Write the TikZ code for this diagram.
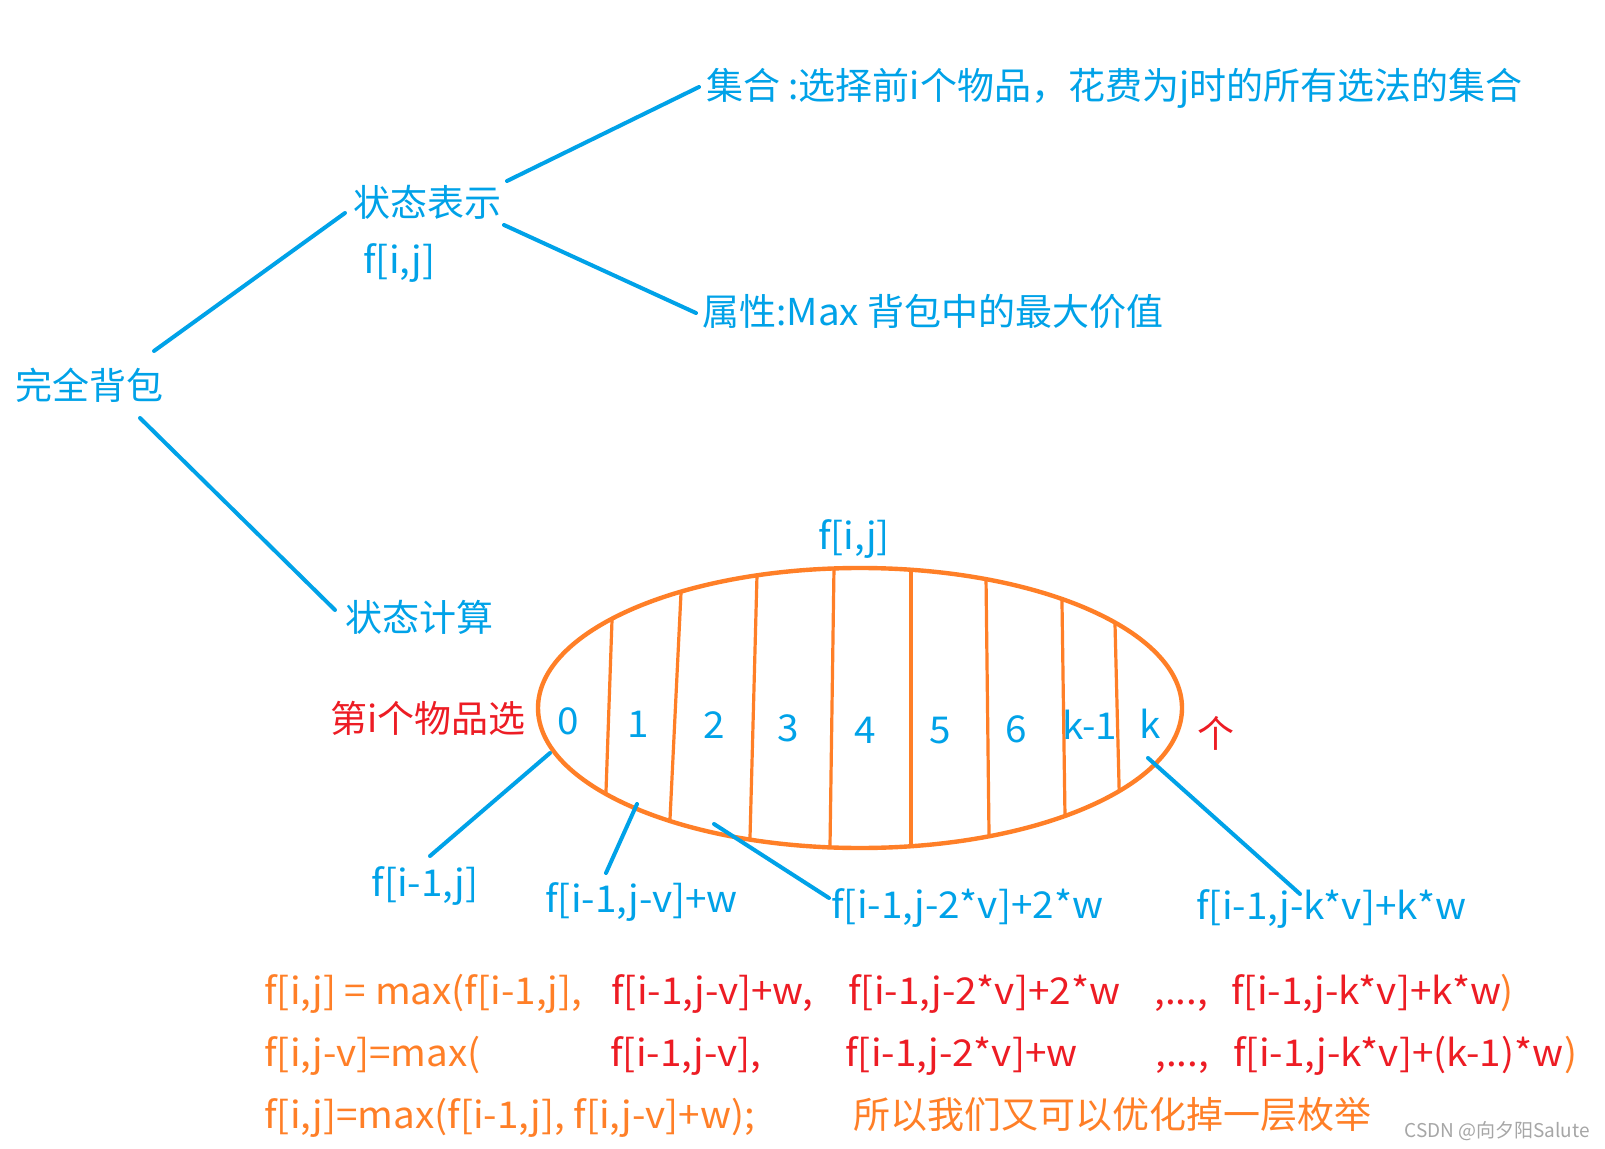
\documentclass[tikz,border=0pt]{standalone}
\usepackage{fontspec}
\setmainfont{Noto Sans CJK SC}
\newfontfamily\latinf[FakeStretch=1.045]{Noto Sans CJK SC}
\definecolor{pblue}{HTML}{00A2E8}
\definecolor{porange}{HTML}{FF7F27}
\definecolor{pred}{HTML}{ED1C24}
\definecolor{wmgray}{HTML}{A6A6A6}
\begin{document}
\begin{tikzpicture}[x=0.5pt,y=-0.5pt,
  txt/.style={inner sep=0pt, anchor=west, text height=0.76em, text depth=0pt, yshift=-3.5pt, font=\fontsize{18.5}{22}\selectfont},
  bl/.style={txt, text=pblue},
  rd/.style={txt, text=pred},
  og/.style={txt, text=porange},
  lt/.style={font=\fontsize{18.5}{22}\selectfont\latinf},
  dig/.style={bl, anchor=center},
  bline/.style={draw=pblue, line width=2pt, line cap=round},
  oline/.style={draw=porange, line width=1.6pt},
]
\useasboundingbox[fill=white] (0,0) rectangle (1605,1149);

% top tree
\node[bl] (jihe) at (706,85) {集合 :选择前i个物品，花费为j时的所有选法的集合};
\node[bl] (zt) at (353,202) {状态表示};
\node[bl, lt] (fij1) at (363,259) {f[i,j]};
\node[bl] (sx) at (702,311) {属性:{\latinf Max} 背包中的最大价值};
\node[bl] (root) at (15,385) {完全背包};
\node[bl] (zjs) at (345,617) {状态计算};

\coordinate (l1a) at (507,181); \coordinate (l1b) at (699,87);
\coordinate (l2a) at (154,351); \coordinate (l2b) at (345,213);
\coordinate (l3a) at (504,225); \coordinate (l3b) at (696,313);
\coordinate (l4a) at (140,418); \coordinate (l4b) at (335,610);
\draw[bline] (l1a) -- (l1b);
\draw[bline] (l2a) -- (l2b);
\draw[bline] (l3a) -- (l3b);
\draw[bline] (l4a) -- (l4b);

% ellipse
\node[dig, lt] (fij2) at (854,535) {f[i,j]};
\begin{scope}
\clip (860,708) ellipse [x radius=322, y radius=140];
\draw[oline] (614.1,560) -- (603.6,860);
\draw[oline] (682.6,560) -- (668.0,860);
\draw[oline] (757.4,560) -- (749.4,860);
\draw[oline] (834.1,560) -- (829.8,860);
\draw[oline] (911,560) -- (911,860);
\draw[oline] (985.8,560) -- (989.3,860);
\draw[oline] (1061.4,560) -- (1065.6,860);
\draw[oline] (1113.4,560) -- (1120.9,860);
\end{scope}
\draw[porange, line width=2.2pt] (860,708) ellipse [x radius=322, y radius=140];

\node[dig, lt] (d0) at (568,720) {0};
\node[dig, lt] (d1) at (638,723) {1};
\node[dig, lt] (d2) at (714,724) {2};
\node[dig, lt] (d3) at (788,727) {3};
\node[dig, lt] (d4) at (865,729) {4};
\node[dig, lt] (d5) at (940,729) {5};
\node[dig, lt] (d6) at (1016,728) {6};
\node[dig, lt] (dk1) at (1090,725) {k-1};
\node[dig, lt] (dk) at (1150,724) {k};

\node[rd] (di) at (330,718) {第i个物品选};
\node[rd, anchor=center] (ge) at (1216,733) {个};

% labels below
\node[bl, lt, anchor=center] (b0) at (425,882) {f[i-1,j]};
\node[bl, lt] (b1) at (545,898) {f[i-1,j-v]+w};
\node[bl, lt] (b2) at (831,904) {f[i-1,j-2*v]+2*w};
\node[bl, lt] (bk) at (1196,905) {f[i-1,j-k*v]+k*w};

\coordinate (p0a) at (550,753); \coordinate (p0b) at (430,856);
\coordinate (p1a) at (637,804); \coordinate (p1b) at (606,873);
\coordinate (p2a) at (714,824); \coordinate (p2b) at (829,898);
\coordinate (pka) at (1148,758); \coordinate (pkb) at (1300,894);
\draw[bline] (p0a) -- (p0b);
\draw[bline] (p1a) -- (p1b);
\draw[bline] (p2a) -- (p2b);
\draw[bline] (pka) -- (pkb);

% equations
\node[og, lt] (e1a) at (264,990) {f[i,j] = max(f[i-1,j],};
\node[rd, lt] (e1b) at (611,990) {f[i-1,j-v]+w,};
\node[rd, lt] (e1c) at (848,990) {f[i-1,j-2*v]+2*w};
\node[rd, lt] (e1d) at (1154,990) {,...,};
\node[rd, lt] (e1e) at (1231,990) {f[i-1,j-k*v]+k*w};
\node[og, lt] (e1f) at (1500,990) {)};

\node[og, lt] (e2a) at (264,1052) {f[i,j-v]=max(};
\node[rd, lt] (e2b) at (610,1052) {f[i-1,j-v],};
\node[rd, lt] (e2c) at (845,1052) {f[i-1,j-2*v]+w};
\node[rd, lt] (e2d) at (1155,1052) {,...,};
\node[rd, lt] (e2e) at (1233,1052) {f[i-1,j-k*v]+(k-1)*w};
\node[og, lt] (e2f) at (1564,1052) {)};

\node[og, lt] (e3a) at (264,1114) {f[i,j]=max(f[i-1,j], f[i,j-v]+w);};
\node[og] (e3b) at (853,1114) {所以我们又可以优化掉一层枚举};

\node[txt, font=\fontsize{9.5}{10}\selectfont, text=wmgray] (wm) at (1404,1123) {CSDN @向夕阳Salute};
\end{tikzpicture}
\end{document}
